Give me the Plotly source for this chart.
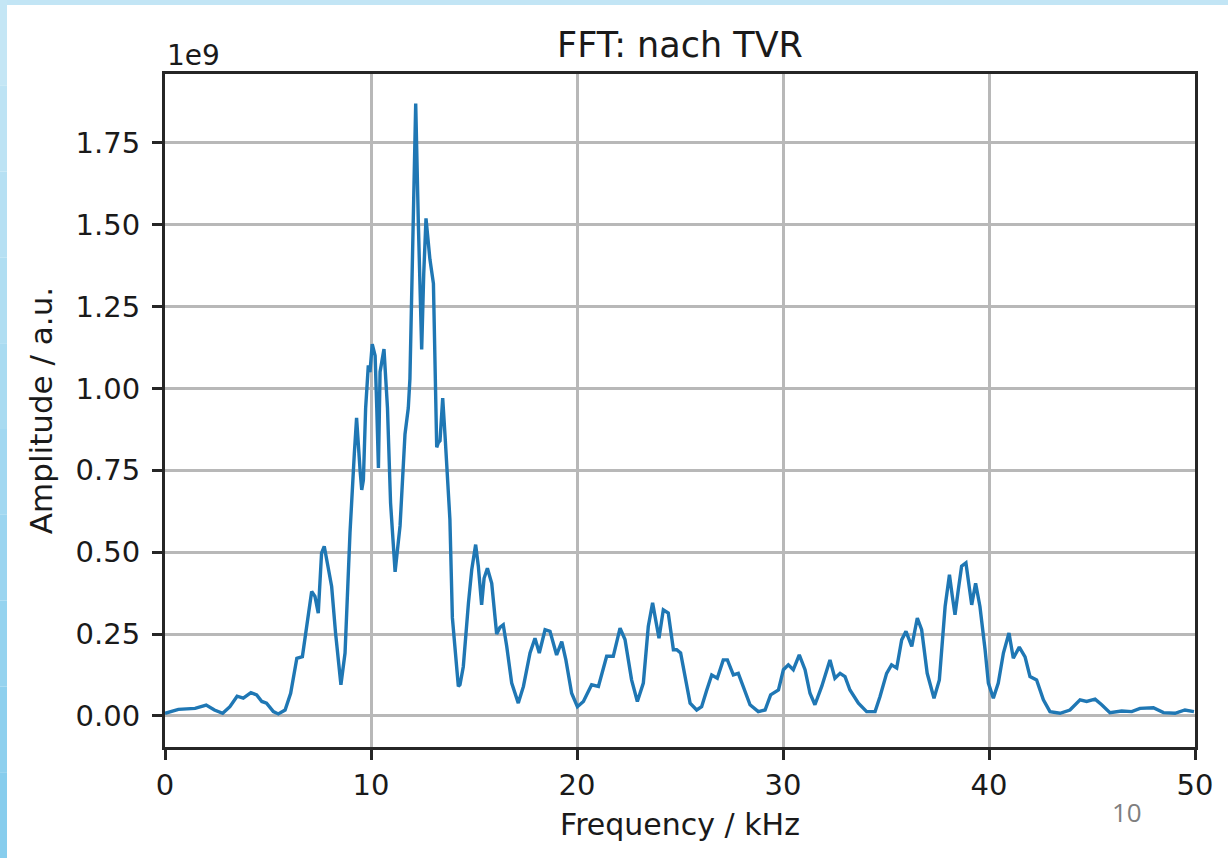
import plotly.graph_objects as go

# Frequency in kHz, amplitude in units of 1e9
freq_khz = [
    0.0, 0.65, 1.46, 2.0, 2.4, 2.8, 3.15, 3.5, 3.8, 4.17, 4.45, 4.7, 4.93, 5.26, 5.5, 5.83,
    6.1, 6.4, 6.67, 6.88, 7.12, 7.28, 7.44, 7.6, 7.73, 7.88, 8.09, 8.28, 8.54, 8.74, 8.98,
    9.19, 9.3, 9.47, 9.55, 9.63, 9.74, 9.87, 9.95, 10.06, 10.2, 10.28, 10.36, 10.44, 10.63,
    10.8, 10.95, 11.17, 11.41, 11.65, 11.81, 11.89, 11.97, 12.08, 12.17, 12.3, 12.46, 12.56,
    12.67, 12.86, 13.03, 13.19, 13.27, 13.35, 13.48, 13.6, 13.75, 13.83, 13.95, 14.08, 14.24,
    14.32, 14.48, 14.73, 14.89, 15.08, 15.21, 15.37, 15.49, 15.65, 15.86, 16.1, 16.26, 16.42,
    16.59, 16.83, 17.15, 17.4, 17.72, 17.96, 18.17, 18.45, 18.69, 19.01, 19.26, 19.46, 19.74,
    20.02, 20.31, 20.71, 21.04, 21.44, 21.76, 22.09, 22.33, 22.65, 22.93, 23.22, 23.46, 23.67,
    23.87, 23.98, 24.19, 24.43, 24.68, 24.84, 25.03, 25.24, 25.49, 25.81, 26.05, 26.3, 26.54,
    26.81, 27.1, 27.3, 27.59, 27.83, 28.07, 28.4, 28.8, 29.13, 29.4, 29.78, 30.02, 30.26, 30.5,
    30.79, 31.07, 31.31, 31.55, 31.88, 32.28, 32.52, 32.77, 33.01, 33.25, 33.66, 34.06, 34.47,
    34.71, 35.03, 35.27, 35.52, 35.76, 35.97, 36.25, 36.52, 36.73, 37.0, 37.33, 37.59, 37.87,
    38.08, 38.22, 38.35, 38.51, 38.67, 38.88, 39.16, 39.35, 39.56, 39.81, 39.97, 40.21, 40.45,
    40.7, 40.97, 41.18, 41.47, 41.75, 41.99, 42.31, 42.64, 42.96, 43.45, 43.93, 44.42, 44.74,
    45.15, 45.47, 45.87, 46.44, 46.93, 47.33, 47.98, 48.47, 49.03, 49.51, 49.95,
]
amplitude_1e9 = [
    0.008, 0.02, 0.023, 0.033, 0.018, 0.008, 0.028, 0.06, 0.054, 0.071, 0.064, 0.044, 0.039,
    0.013, 0.006, 0.018, 0.069, 0.176, 0.181, 0.283, 0.38, 0.365, 0.314, 0.497, 0.518, 0.467,
    0.395, 0.253, 0.095, 0.192, 0.559, 0.8, 0.91, 0.75, 0.69, 0.72, 0.94, 1.07, 1.05, 1.135,
    1.1, 0.94, 0.757, 1.05, 1.12, 0.94, 0.65, 0.44, 0.58, 0.86, 0.94, 1.03, 1.3, 1.6, 1.87,
    1.5, 1.119, 1.35, 1.519, 1.394, 1.32, 0.82, 0.834, 0.84, 0.97, 0.85, 0.66, 0.6, 0.3, 0.21,
    0.09, 0.095, 0.15, 0.344, 0.446, 0.523, 0.457, 0.339, 0.42, 0.451, 0.405, 0.25, 0.27,
    0.278, 0.212, 0.1, 0.039, 0.09, 0.192, 0.237, 0.192, 0.263, 0.258, 0.186, 0.227, 0.171,
    0.069, 0.028, 0.044, 0.095, 0.09, 0.182, 0.182, 0.268, 0.233, 0.11, 0.044, 0.1, 0.273,
    0.345, 0.273, 0.237, 0.324, 0.314, 0.202, 0.202, 0.192, 0.12, 0.039, 0.018, 0.028, 0.079,
    0.125, 0.115, 0.171, 0.171, 0.125, 0.13, 0.09, 0.034, 0.013, 0.018, 0.064, 0.079, 0.141,
    0.156, 0.141, 0.186, 0.141, 0.069, 0.034, 0.09, 0.171, 0.115, 0.13, 0.12, 0.079, 0.039,
    0.013, 0.013, 0.059, 0.13, 0.156, 0.146, 0.232, 0.258, 0.212, 0.299, 0.263, 0.13, 0.054,
    0.11, 0.334, 0.431, 0.365, 0.309, 0.385, 0.457, 0.467, 0.339, 0.405, 0.334, 0.202, 0.1,
    0.054, 0.1, 0.192, 0.253, 0.176, 0.21, 0.18, 0.12, 0.11, 0.049, 0.013, 0.008, 0.018,
    0.049, 0.044, 0.051, 0.034, 0.01, 0.015, 0.013, 0.023, 0.025, 0.01, 0.008, 0.018, 0.013,
]
x_ticks = [0, 10, 20, 30, 40, 50]
y_ticks = [0.0, 0.25, 0.5, 0.75, 1.0, 1.25, 1.5, 1.75]

W, H = 1228, 858
L, R, T, B = 165, 33, 74, 111

FONT = "DejaVu Sans"
DARK = "#262626"
TEXT = "#1a1a1a"

fig = go.Figure()
fig.add_trace(go.Scatter(
    x=freq_khz, y=amplitude_1e9, mode="lines",
    line=dict(color="#1f77b4", width=3.4), showlegend=False, hoverinfo="skip",
))

axis_common = dict(
    showline=True, mirror=True, linecolor=DARK, linewidth=3,
    ticks="outside", ticklen=10, tickwidth=3, tickcolor=DARK,
    showgrid=True, gridcolor="#b8b8b8", gridwidth=2.5, zeroline=False,
    tickfont=dict(family=FONT, size=29, color=TEXT),
)

fig.update_xaxes(
    range=[0, 50], tickvals=x_ticks, ticktext=[str(v) for v in x_ticks],
    title=dict(text="Frequency / kHz", font=dict(family=FONT, size=30, color=TEXT), standoff=14),
    **axis_common,
)
fig.update_yaxes(
    range=[-0.095, 1.96], tickvals=y_ticks, ticktext=[f"{v:.2f}" for v in y_ticks],
    ticklabelstandoff=6,
    title=dict(text="Amplitude / a.u.", font=dict(family=FONT, size=31, color=TEXT), standoff=14),
    **axis_common,
)


def px_x(p):
    return (p - L) / (W - L - R)


def px_y(p):
    return (H - B - p) / (H - T - B)


annotations = [
    dict(text="FFT: nach TVR", x=0.5, y=px_y(45), xref="paper", yref="paper",
         showarrow=False, font=dict(family=FONT, size=35, color=TEXT),
         xanchor="center", yanchor="middle"),
    dict(text="1e9", x=0, y=px_y(55), xref="paper", yref="paper", showarrow=False,
         font=dict(family=FONT, size=28, color=TEXT), xanchor="left", yanchor="middle"),
    dict(text="10", x=px_x(1127), y=px_y(812), xref="paper", yref="paper", showarrow=False,
         font=dict(family="Open Sans", size=26, color="#7f7f7f"), xanchor="center", yanchor="middle"),
]

# light-blue slide border (top band and left band with a gentle gradient)
shapes = [dict(type="rect", xref="paper", yref="paper", x0=px_x(0), x1=px_x(W), y0=px_y(0), y1=px_y(5),
               fillcolor="#c2e5f5", line=dict(width=0), layer="above")]
n = 10
c_top = (196, 230, 245)
c_bot = (135, 205, 237)
for i in range(n):
    t = i / (n - 1)
    c = tuple(int(round(a + (b - a) * t)) for a, b in zip(c_top, c_bot))
    y0 = H * i / n
    y1 = H * (i + 1) / n
    shapes.append(dict(type="rect", xref="paper", yref="paper", x0=px_x(0), x1=px_x(7),
                       y0=px_y(y0), y1=px_y(y1), fillcolor=f"rgb{c}", line=dict(width=0), layer="above"))

fig.update_layout(
    width=W, height=H,
    margin=dict(l=L, r=R, t=T, b=B),
    paper_bgcolor="white", plot_bgcolor="white",
    annotations=annotations, shapes=shapes,
    font=dict(family=FONT),
)

fig.write_html("out.html")
